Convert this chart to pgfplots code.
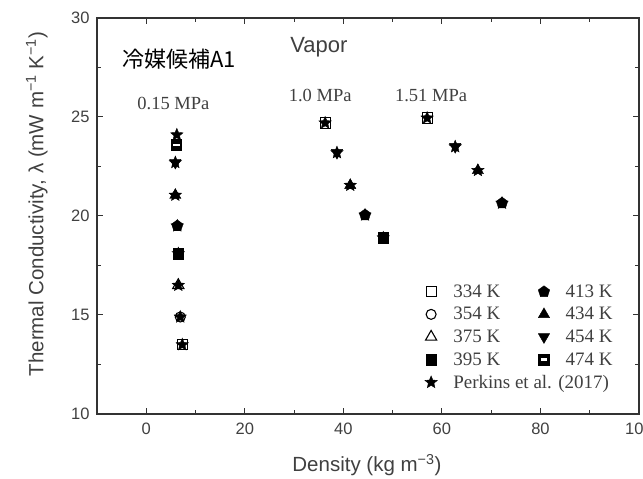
\documentclass[border=0pt]{standalone}
\usepackage{fontspec}
\setmainfont{Liberation Serif}
\setsansfont{Liberation Sans}
\newfontfamily\cjk{Noto Sans CJK JP}
\usepackage{pgfplots}
\pgfplotsset{compat=1.18}
\usetikzlibrary{plotmarks}

\pgfdeclareplotmark{fstar}{%
  \pgfpathmoveto{\pgfpointpolar{90}{\pgfplotmarksize}}%
  \pgfpathlineto{\pgfpointpolar{126}{0.45\pgfplotmarksize}}%
  \pgfpathlineto{\pgfpointpolar{162}{\pgfplotmarksize}}%
  \pgfpathlineto{\pgfpointpolar{198}{0.45\pgfplotmarksize}}%
  \pgfpathlineto{\pgfpointpolar{234}{\pgfplotmarksize}}%
  \pgfpathlineto{\pgfpointpolar{270}{0.45\pgfplotmarksize}}%
  \pgfpathlineto{\pgfpointpolar{306}{\pgfplotmarksize}}%
  \pgfpathlineto{\pgfpointpolar{342}{0.45\pgfplotmarksize}}%
  \pgfpathlineto{\pgfpointpolar{18}{\pgfplotmarksize}}%
  \pgfpathlineto{\pgfpointpolar{54}{0.45\pgfplotmarksize}}%
  \pgfpathclose
  \pgfusepathqfillstroke
}
\pgfdeclareplotmark{barsq}{%
  \pgfpathrectangle{\pgfpoint{-\pgfplotmarksize}{-\pgfplotmarksize}}{\pgfpoint{2\pgfplotmarksize}{2\pgfplotmarksize}}%
  \pgfusepathqfillstroke
  \pgfsetfillcolor{white}%
  \pgfpathrectangle{\pgfpoint{-0.6\pgfplotmarksize}{-0.2\pgfplotmarksize}}{\pgfpoint{1.2\pgfplotmarksize}{0.4\pgfplotmarksize}}%
  \pgfusepathqfill
}

\begin{document}
\begin{tikzpicture}
\useasboundingbox (-97pt,-65pt) rectangle (546pt,414pt);
\begin{axis}[
  at={(0,0)}, anchor=south west, scale only axis,
  width=542pt, height=396pt,
  xmin=-10, xmax=100, ymin=10, ymax=30,
  xtick={0,20,...,100}, minor x tick num=1,
  ytick={10,15,...,30}, minor y tick num=1,
  tick align=inside, major tick length=6pt, minor tick length=4pt,
  axis line style={line width=1.3pt, black!80},
  every tick/.style={black!80, line width=1pt},
  /pgf/number format/assume math mode=true,
  ticklabel style={font=\sffamily\fontsize{16.5}{16.5}\selectfont, text=black!75},
  yticklabel style={xshift=-4pt},
  xticklabel style={yshift=-5pt},
  xlabel={Density (kg m\textsuperscript{−3})},
  ylabel={Thermal Conductivity, λ (mW m\textsuperscript{−1} K\textsuperscript{−1})},
  label style={font=\sffamily\fontsize{20.5}{20.5}\selectfont, text=black!75},
  xlabel style={at={(axis description cs:0.498,-0.129)}, anchor=center},
  ylabel style={at={(axis description cs:-0.111,0.53)}, anchor=center},
  legend columns=2,
  legend cell align=left,
  legend style={draw=none, fill=none, at={(0.961,0.337)}, anchor=north east,
    font=\fontsize{19}{20}\selectfont, text=black!75, row sep=4.5pt,
    /tikz/every odd column/.append style={column sep=14pt},
    /tikz/every even column/.append style={column sep=36pt}},
  clip=false,
]
% 334 K
\addplot[only marks, mark=square, mark size=5pt, mark options={draw=black, fill=white, line width=1.1pt}]
  coordinates {(7.3,13.5)};
\addlegendentry{334 K}
% 413 K
\addplot[only marks, mark=pentagon*, mark size=6pt, mark options={draw=black, fill=black}]
  coordinates {(6.3,19.5) (44.4,20.05) (72.2,20.65)};
\addlegendentry{413 K}
% 354 K
\addplot[only marks, mark=o, mark size=5pt, mark options={draw=black, fill=white, line width=1.1pt}]
  coordinates {(6.9,14.9)};
\addlegendentry{354 K}
% 434 K
\addplot[only marks, mark=triangle*, mark size=6.5pt, mark options={draw=black, fill=black}]
  coordinates {(5.9,21.05) (41.4,21.55) (67.3,22.3)};
\addlegendentry{434 K}
% 375 K
\addplot[only marks, mark=triangle, mark size=6.5pt, mark options={draw=black, fill=white, line width=1.1pt}]
  coordinates {(6.5,16.5)};
\addlegendentry{375 K}
% 454 K
\addplot[only marks, mark=triangle*, mark size=6.5pt, mark options={draw=black, fill=black, rotate=180}]
  coordinates {(5.9,22.7) (38.7,23.2) (62.7,23.5)};
\addlegendentry{454 K}
% 395 K
\addplot[only marks, mark=square*, mark size=5.3pt, mark options={draw=black, fill=black}]
  coordinates {(6.5,18.1) (48.1,18.9)};
\addlegendentry{395 K}
% 474 K
\addplot[only marks, mark=barsq, mark size=5.3pt, mark options={draw=black, fill=black}]
  coordinates {(6.1,23.6) (36.3,24.7) (57.0,24.95)};
\addlegendentry{474 K}
% Perkins et al. (2017)
\addplot[only marks, mark=fstar, mark size=6.5pt, mark options={draw=black, fill=black}]
  coordinates {(6.2,24.1) (5.9,22.7) (5.9,21.05) (6.3,19.5) (6.5,18.1) (6.5,16.5) (6.9,14.9) (7.3,13.5)
               (36.3,24.7) (38.7,23.2) (41.4,21.55) (44.4,20.05) (48.1,18.9)
               (57.0,24.95) (62.7,23.5) (67.3,22.3) (72.2,20.65)};
\addlegendentry{\makebox[0pt][l]{Perkins et al. (2017)}}

\fill[white] (axis cs:-5.7,26.77) rectangle (axis cs:28.2,29.14);
\node[anchor=west, inner sep=0pt, font=\cjk\fontsize{22}{22}\selectfont] at (axis cs:-4.9,27.93) {冷媒候補A1};
\node[anchor=west, inner sep=0pt, font=\sffamily\fontsize{22}{22}\selectfont, text=black!75] at (axis cs:29.2,28.5) {Vapor};
\node[font=\fontsize{18.5}{18.5}\selectfont, text=black!75] at (axis cs:5.5,25.7) {0.15 MPa};
\node[font=\fontsize{18.5}{18.5}\selectfont, text=black!75] at (axis cs:35.3,26.1) {1.0 MPa};
\node[font=\fontsize{18.5}{18.5}\selectfont, text=black!75] at (axis cs:57.8,26.1) {1.51 MPa};
\end{axis}
\end{tikzpicture}
\end{document}
